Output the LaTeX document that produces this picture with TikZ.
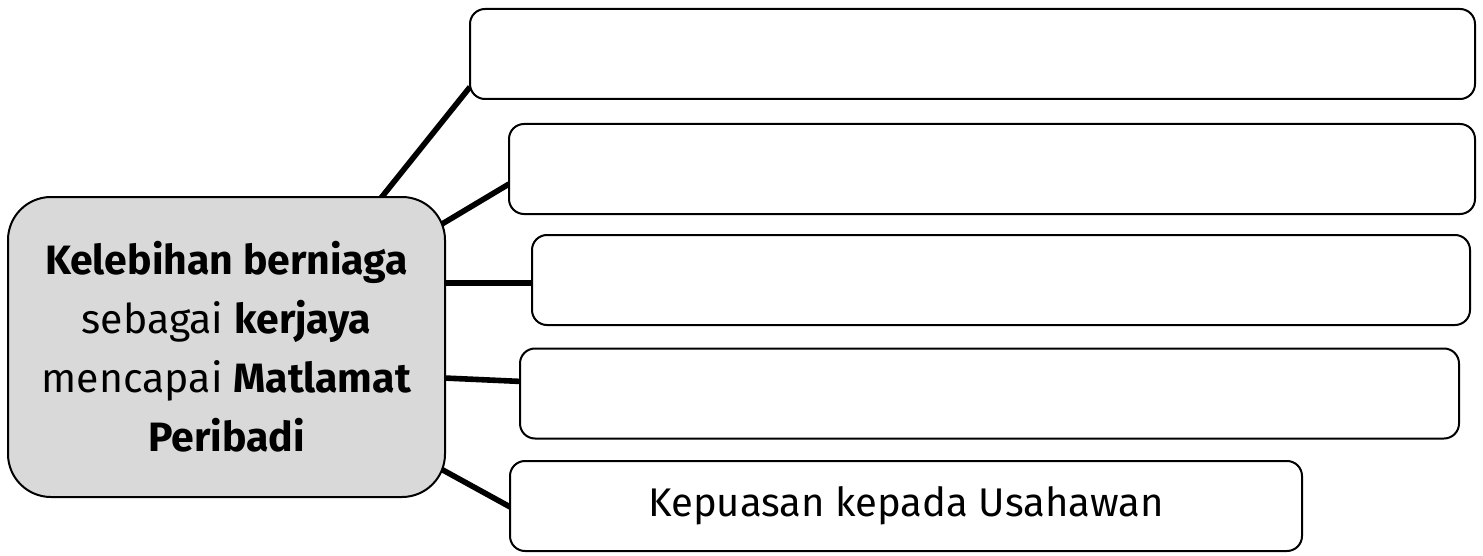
\documentclass[tikz,border=0pt]{standalone}
\usepackage{fontspec}
\setmainfont{Fira Sans}
\usetikzlibrary{positioning,calc,backgrounds}
\definecolor{hubgray}{RGB}{217,217,217}
\tikzset{
  hubbox/.style={draw, line width=1pt, fill=hubgray, rounded corners=21.5pt,
    minimum width=218.5pt, minimum height=150pt, inner sep=0pt,
    align=center, font=\fontsize{20.5}{29.5}\selectfont},
  itembox/.style={draw, line width=1pt, fill=white, rounded corners=7.5pt,
    minimum height=45pt, inner sep=0pt, font=\fontsize{20}{24}\selectfont},
  link/.style={line width=2.8pt}
}

\begin{document}
\begin{tikzpicture}[x=0.5pt, y=-0.5pt]
  \useasboundingbox (0,0) rectangle (1483,556);
  % central topic
  \node[hubbox] (hub) at (226.5,347)
    {\textbf{Kelebihan berniaga}\\ sebagai \textbf{kerjaya}\\
     mencapai \textbf{Matlamat}\\ \textbf{Peribadi}};
  % answer boxes (first four left blank)
  \node[itembox, minimum width=502.5pt] (b1) at (972.5,54) {};
  \node[itembox, minimum width=483pt] (b2) at (992,169) {};
  \node[itembox, minimum width=469pt] (b3) at (1001,280) {};
  \node[itembox, minimum width=469.5pt] (b4) at (989.5,393.5) {};
  \node[itembox, minimum width=396pt] (b5) at (906,506) {Kepuasan kepada Usahawan};
  % connectors, kept behind the boxes
  \begin{scope}[on background layer]
    \draw[link] ($(hub.north west)+(374,2)$) -- ($(b1.south west)+(1,-13)$);
    \draw[link] ($(hub.north east)+(-4,28)$) -- ($(b2.west)+(1,15)$);
    \draw[link] ($(hub.east)+(-2,-64)$) -- ($(b3.west)+(1,3)$);
    \draw[link] ($(hub.east)+(-2,31)$) -- ($(b4.west)+(3,-12)$);
    \draw[link] ($(hub.south east)+(-5,-29)$) -- ($(b5.west)+(3,2)$);
  \end{scope}
\end{tikzpicture}
\end{document}
